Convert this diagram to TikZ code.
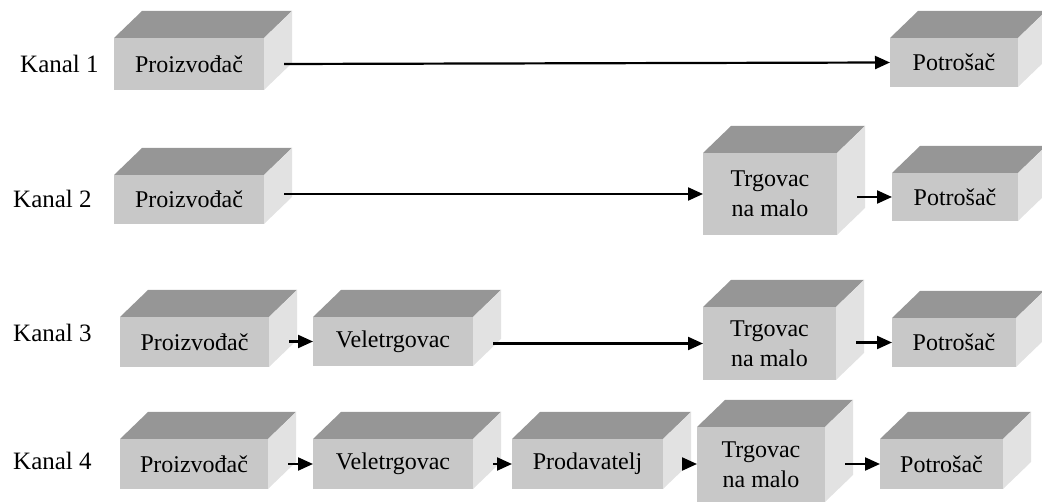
\documentclass[tikz,border=0pt]{standalone}
\usepackage{fontspec}
\setmainfont{Liberation Serif}
\newfontfamily\tnrfont{Liberation Serif}
\usetikzlibrary{calc,arrows.meta}
\definecolor{frontc}{RGB}{200,200,200}
\definecolor{topc}{RGB}{150,150,150}
\definecolor{sidec}{RGB}{226,226,226}
\newcommand\cubebox[6]{%
  \node[frontface, minimum width=#4, minimum height=#5, anchor=north west] (#1) at (#2,#3) {#6};
  \fill[topc] (#1.north west) -- ++(28,-27) -- ($(#1.north east)+(28,-27)$) -- (#1.north east) -- cycle;
  \fill[sidec] (#1.north east) -- ++(28,-27) -- ++(0,#5) -- (#1.south east) -- cycle;
  \coordinate (#1-s) at ($(#1.east)+(20,0)$);
}
\tikzset{
  frontface/.style={fill=frontc, inner sep=0pt, outer sep=0pt, align=center,
    font=\tnrfont\fontsize{24}{30}\selectfont},
  kanal/.style={anchor=west, inner sep=0pt, font=\tnrfont\fontsize{25}{30}\selectfont},
  flow/.style={line width=2.2pt, -{Triangle[length=15pt,width=13pt]}}
}
\begin{document}
\begin{tikzpicture}[x=1pt,y=-1pt]
\useasboundingbox (0,0) rectangle (1042,502);
% labels
\node[kanal] (k1) at (20,64) {Kanal 1};
\node[kanal] (k2) at (13,199) {Kanal 2};
\node[kanal] (k3) at (13,333) {Kanal 3};
\node[kanal] (k4) at (13,461) {Kanal 4};
% row 1
\cubebox{p1}{114}{38}{150}{52}{Proizvođač}
\cubebox{c1}{890}{38}{128}{49}{Potrošač}
% row 2
\cubebox{p2}{114}{175}{150}{49}{Proizvođač}
\cubebox{t2}{703}{153}{134}{82}{Trgovac\\na malo}
\cubebox{c2}{892}{173}{126}{48}{Potrošač}
% row 3
\cubebox{p3}{120}{317}{149}{50}{Proizvođač}
\cubebox{v3}{313}{317}{160}{49}{Veletrgovac}
\cubebox{t3}{703}{307}{133}{73}{Trgovac\\na malo}
\cubebox{c3}{892}{318}{124}{49}{Potrošač}
% row 4
\cubebox{p4}{120}{439}{148}{50}{Proizvođač}
\cubebox{v4}{313}{439}{160}{50}{Veletrgovac}
\cubebox{r4}{512}{439}{151}{50}{Prodavatelj}
\cubebox{t4}{697}{427}{128}{75}{Trgovac\\na malo}
\cubebox{c4}{880}{439}{123}{50}{Potrošač}
% arrows
\draw[flow] (p1-s) -- (c1.west);
\draw[flow] (p2-s |- t2.west) -- (t2.west);
\draw[flow] (t2-s |- c2.west) -- (c2.west);
\draw[flow] (p3-s |- v3.west) -- (v3.west);
\draw[flow] (v3-s |- t3.west) -- (t3.west);
\draw[flow] (t3-s |- c3.west) -- (c3.west);
\draw[flow] (p4-s) -- (v4.west);
\draw[flow] (v4-s) -- (r4.west);
\draw[flow] (r4-s) -- (t4.west |- r4-s);
\draw[flow] (t4-s |- c4.west) -- (c4.west);
\end{tikzpicture}
\end{document}
